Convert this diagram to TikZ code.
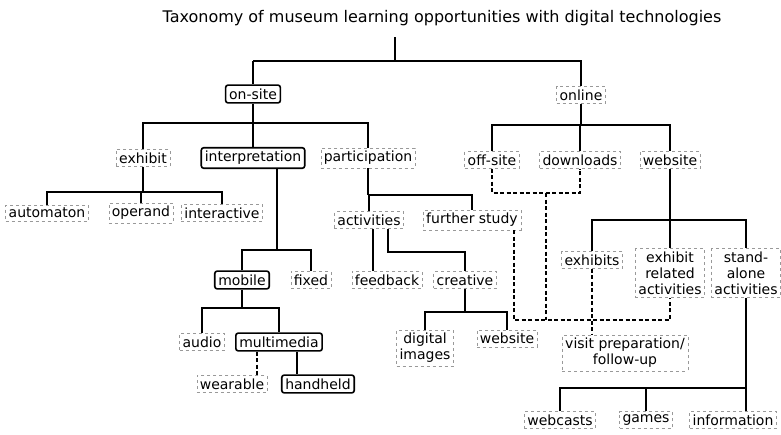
\documentclass[tikz,border=0pt]{standalone}
\usepackage{fontspec}
\setmainfont{DejaVu Sans}
\usetikzlibrary{positioning, calc}
\tikzset{
  mainbox/.style={draw, rounded corners=2.5pt, line width=1.6pt, inner sep=3.5pt},
  softbox/.style={draw=black!40, dashed, line width=0.5pt, inner sep=3pt},
  spine/.style={line width=2.4pt},
  branch/.style={line width=1.2pt},
  linkline/.style={dash pattern=on 4pt off 2.5pt, line width=1.2pt},
}

\begin{document}
\begin{tikzpicture}[x=1pt, y=-1pt, font=\fontsize{14}{16}\selectfont]
    \useasboundingbox (0,0) rectangle (781,434);

    % =========================================================================
    % TITLE AND TOP LEVEL
    % =========================================================================
    \node[font=\fontsize{16}{18}\selectfont] (title) at (442,18) {Taxonomy of museum learning opportunities with digital technologies};
    \coordinate (stemtop) at (395,37);
    \coordinate (topbus) at (395,61);
    \draw[spine] (stemtop) -- (topbus);

    \node[mainbox] (onsite) at (253,94) {on-site};
    \node[softbox] (online) at (581,95) {online};
    \draw[branch] (onsite.north |- topbus) -- (online.north |- topbus) -- (online.north);
    \draw[spine] (onsite.north |- topbus) -- (onsite.north);

    % =========================================================================
    % ON-SITE
    % =========================================================================
    \coordinate (onbus) at (0,123);
    \node[softbox] (exhibit) at (143,158) {exhibit};
    \node[mainbox] (interp) at (253,158) {interpretation};
    \node[softbox] (partic) at (368,158) {participation};
    \draw[spine] (onsite) -- (interp);
    \draw[branch] (exhibit.north) -- (exhibit.north |- onbus) -- (partic.north |- onbus) -- (partic.north);

    % exhibit
    \coordinate (exbus) at (0,192);
    \node[softbox] (automaton) at (47,213) {automaton};
    \node[softbox] (operand) at (141,213) {operand};
    \node[softbox] (interactive) at (222,213) {interactive};
    \draw[branch] (exhibit.south) -- (exhibit.south |- exbus);
    \draw[branch] (automaton.north) -- (automaton.north |- exbus) -- (interactive.north |- exbus) -- (interactive.north);
    \draw[branch] (operand.north) -- (operand.north |- exbus);

    % interpretation
    \coordinate (intdrop) at (277,0);
    \coordinate (intbus) at (0,250);
    \node[mainbox] (mobile) at (242,280) {mobile};
    \node[softbox] (fixed) at (311,280) {fixed};
    \draw[spine] (interp.south -| intdrop) -- (intdrop |- intbus);
    \draw[spine] (mobile.north) -- (mobile.north |- intbus) -- (fixed.north |- intbus) -- (fixed.north);

    \coordinate (mobbus) at (0,308);
    \node[softbox] (audio) at (202,342) {audio};
    \node[mainbox] (multi) at (279,342) {multimedia};
    \draw[spine] (mobile.south) -- (mobile.south |- mobbus);
    \draw[spine] (audio.north) -- (audio.north |- mobbus) -- (multi.north |- mobbus) -- (multi.north);

    \coordinate (weardrop) at (257,0);
    \coordinate (handdrop) at (297,0);
    \node[softbox] (wearable) at (232,384) {wearable};
    \node[mainbox] (handheld) at (318,384) {handheld};
    \draw[linkline] (multi.south -| weardrop) -- (wearable.north -| weardrop);
    \draw[spine] (multi.south -| handdrop) -- (handheld.north -| handdrop);

    % participation
    \coordinate (parbus) at (0,195);
    \node[softbox] (activities) at (369,220) {activities};
    \node[softbox] (further) at (472,220) {further study};
    \draw[branch] (partic.south) -- (partic.south |- parbus);
    \draw[branch] (activities.north) -- (activities.north |- parbus) -- (further.north |- parbus) -- (further.north);

    \coordinate (fbdrop) at (373,0);
    \coordinate (crdrop) at (388,0);
    \coordinate (crbus) at (0,252);
    \node[softbox] (feedback) at (387,280) {feedback};
    \node[softbox] (creative) at (465,280) {creative};
    \draw[branch] (activities.south -| fbdrop) -- (feedback.north -| fbdrop);
    \draw[branch] (activities.south -| crdrop) -- (crdrop |- crbus) -- (creative.north |- crbus) -- (creative.north);

    \coordinate (cbus) at (0,312);
    \node[softbox, align=center, anchor=north] (digital) at (425,330) {digital\\images};
    \node[softbox, anchor=north] (website1) at (507,330) {website};
    \draw[branch] (creative.south) -- (creative.south |- cbus);
    \draw[branch] (digital.north) -- (digital.north |- cbus) -- (website1.north |- cbus) -- (website1.north);

    % =========================================================================
    % ONLINE
    % =========================================================================
    \coordinate (olbus) at (0,125);
    \node[softbox] (offsite) at (492,160) {off-site};
    \node[softbox] (downloads) at (580,160) {downloads};
    \node[softbox] (website2) at (670,160) {website};
    \draw[branch] (online.south) -- (online.south |- olbus);
    \draw[branch] (offsite.north) -- (offsite.north |- olbus) -- (website2.north |- olbus) -- (website2.north);
    \draw[branch] (downloads.north) -- (downloads.north |- olbus);

    % website
    \coordinate (wsbus) at (0,220);
    \node[softbox] (exhibits) at (592,260) {exhibits};
    \node[softbox, align=center] (exrel) at (670,273) {exhibit\\related\\activities};
    \node[softbox, align=center] (stand) at (746,273) {stand-\\alone\\activities};
    \draw[branch] (website2.south) -- (exrel.north);
    \draw[branch] (exhibits.north) -- (exhibits.north |- wsbus) -- (stand.north |- wsbus) -- (stand.north);

    % visit preparation links (dashed)
    \node[softbox, align=center] (visitprep) at (625,353) {visit preparation/\\follow-up};
    \coordinate (odbus) at (0,193);
    \coordinate (odmid) at (546,0);
    \coordinate (fsdrop) at (514,0);
    \coordinate (vpbus) at (0,320);
    \draw[linkline] (offsite.south) -- (offsite.south |- odbus) -- (downloads.south |- odbus) -- (downloads.south);
    \draw[linkline] (odmid |- odbus) -- (odmid |- vpbus);
    \draw[linkline] (further.south -| fsdrop) -- (fsdrop |- vpbus) -- (exrel.south |- vpbus) -- (exrel.south);
    \draw[linkline] (exhibits.south) -- (visitprep.north -| exhibits.south);

    % stand-alone activities
    \coordinate (sabus) at (0,388);
    \node[softbox] (webcasts) at (560,420) {webcasts};
    \node[softbox] (games) at (646,420) {games};
    \node[softbox] (information) at (733,420) {information};
    \draw[branch] (stand.south) -- (stand.south |- information.north);
    \draw[branch] (webcasts.north) -- (webcasts.north |- sabus) -- (stand.south |- sabus);
    \draw[branch] (games.north) -- (games.north |- sabus);

\end{tikzpicture}
\end{document}
